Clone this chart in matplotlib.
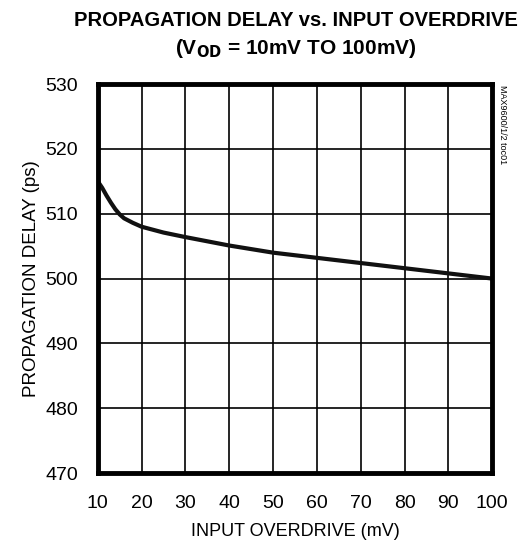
import matplotlib
matplotlib.use("Agg")
import matplotlib.pyplot as plt
import numpy as np

overdrive_mv = [10, 11, 12, 13, 14, 15, 16, 18, 20, 25, 30, 40, 50, 60, 70, 80, 90, 100]
delay_ps = [515.0, 514.0, 512.8, 511.7, 510.7, 509.9, 509.3, 508.6, 508.0, 507.1, 506.4,
            505.1, 504.0, 503.2, 502.4, 501.6, 500.8, 500.0]

x_ticks = list(range(10, 101, 10))
y_ticks = list(range(470, 531, 10))

plt.rcParams['font.family'] = ['Liberation Sans', 'DejaVu Sans']

fig = plt.figure(figsize=(5.23, 5.5), dpi=100)
ax = fig.add_axes([0.187, 0.14, 0.754, 0.707])

ax.plot(overdrive_mv, delay_ps, color='#111111', linewidth=3, solid_capstyle='round')

ax.set_xlim(10, 100)
ax.set_ylim(470, 530)
ax.set_xticks(x_ticks)
ax.set_yticks(y_ticks)
ax.grid(True, color='black', linewidth=1.2)
ax.tick_params(axis='x', length=0, labelsize=14, pad=16)
ax.tick_params(axis='y', length=0, labelsize=14, pad=14)
for s in ax.spines.values():
    s.set_linewidth(3.5)

ax.set_xlabel('INPUT OVERDRIVE (mV)', fontsize=13, labelpad=8)
ax.set_ylabel('PROPAGATION DELAY (ps)', fontsize=13.5, labelpad=4)

fig.text(0.565, 0.963, 'PROPAGATION DELAY vs. INPUT OVERDRIVE', ha='center', va='center',
         fontsize=14.5, fontweight='bold')
fig.text(0.565, 0.912, r'(V$_{\mathbf{OD}}$ = 10mV TO 100mV)', ha='center', va='center',
         fontsize=15, fontweight='bold')
fig.text(0.96, 0.845, 'MAX9600/1/2 toc01', rotation=270, ha='center', va='top', fontsize=6.5)

fig.savefig('out.png', dpi=100)
